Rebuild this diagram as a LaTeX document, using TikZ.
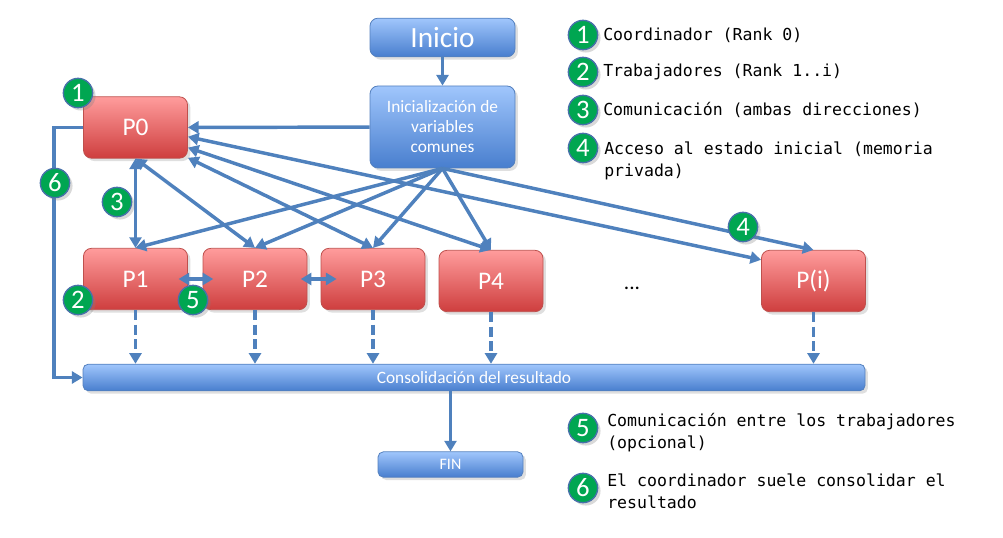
\documentclass[tikz,border=0pt]{standalone}
\usepackage{fontspec}
\setsansfont{Carlito}
\setmonofont{DejaVu Sans Mono}
\usetikzlibrary{arrows.meta,shadows}

\definecolor{linkblue}{RGB}{79,129,189}
\definecolor{proctop}{RGB}{255,156,156}
\definecolor{procbot}{RGB}{206,62,62}
\definecolor{procline}{RGB}{190,80,77}
\definecolor{bluetop}{RGB}{160,198,252}
\definecolor{bluebot}{RGB}{72,126,206}
\definecolor{blueline}{RGB}{84,128,190}
\definecolor{badgegreen}{RGB}{0,166,81}
\definecolor{badgeline}{RGB}{72,112,170}

\begin{document}
\begin{tikzpicture}[x=0.75pt, y=-0.75pt, >={Triangle[length=8pt,width=9pt]},
	link/.style={draw=linkblue, line width=2.6pt},
	proc node/.style={rounded corners=6pt, draw=procline, line width=0.6pt, top color=proctop, bottom color=procbot, minimum width=78pt, minimum height=46pt, inner sep=0pt, text=white, font=\sffamily\fontsize{19}{19}\selectfont, drop shadow={opacity=0.25}},
	blue node/.style={rounded corners=6pt, draw=blueline, line width=0.6pt, top color=bluetop, bottom color=bluebot, minimum width=108.75pt, inner sep=0pt, text=white, align=center, font=\sffamily, drop shadow={opacity=0.25}},
	badge node/.style={circle, fill=badgegreen, draw=badgeline, line width=1pt, minimum size=22pt, inner sep=0pt, text=white, font=\sffamily\fontsize{20}{20}\selectfont, drop shadow={opacity=0.3}},
	legend text/.style={anchor=west, inner sep=0pt, align=left, font=\ttfamily\fontsize{12.4}{16.5}\selectfont}]
	\useasboundingbox (0,0) rectangle (1003,538);
	% boxes
	\node[blue node, minimum height=29pt, font=\sffamily\fontsize{22}{22}\selectfont] (inicio) at (442.5,37.5) {Inicio};
	\node[blue node, minimum height=61.5pt, font=\sffamily\fontsize{13}{15}\selectfont] (init) at (442.5,127) {Inicializaci\'on de\\variables\\comunes};
	\node[proc node] (P0) at (135.5,127.5) {P0};
	\node[proc node] (P1) at (135.5,279) {P1};
	\node[proc node] (P2) at (255,279) {P2};
	\node[proc node] (P3) at (373,279) {P3};
	\node[proc node] (P4) at (491,281) {P4};
	\node[proc node] (Pi) at (813.5,281) {P(i)};
	\node[font=\sffamily\fontsize{16}{16}\selectfont] (dots) at (632,288) {...};
	\node[blue node, minimum width=586.5pt, minimum height=20pt, rounded corners=4pt, font=\sffamily\fontsize{13}{13}\selectfont] (bar) at (474,377.5) {Consolidaci\'on del resultado};
	\node[blue node, minimum height=19pt, rounded corners=4pt, font=\sffamily\fontsize{12}{12}\selectfont] (fin) at (450.5,464.5) {FIN};
	% connectors
	\draw[link, ->] (inicio) -- (init);
	\draw[link, ->] (init) -- (P0);
	\foreach \p in {P1,P2,P3,P4,Pi}
		\draw[link, ->] (init.south) -- (\p.north);
	\draw[link, <->] (P0.south) -- (P1.north);
	\draw[link, <->] (P0.south) -- (P2.north);
	\draw[link, <->] (P0.-30) -- (P3.north);
	\draw[link, <->] (P0.-21) -- (P4.north);
	\draw[link, <->] (P0.-10) -- (Pi.158);
	\draw[link, <->] ([xshift=-7pt]P1.east) -- ([xshift=8pt]P2.west);
	\draw[link, <->] ([xshift=-5pt]P2.east) -- ([xshift=12pt]P3.west);
	\foreach \p in {P1,P2,P3,P4,Pi}
		\draw[link, ->, dash pattern=on 7.5pt off 3.5pt] (\p.south) -- (\p.south |- bar.north);
	\draw[link, ->] (P0.west) -- ++(-29,0) |- (bar.west);
	\draw[link, ->] (bar.south -| fin.north) -- (fin.north);
	% badges on the diagram
	\node[badge node] (b1) at (78,93) {1};
	\node[badge node] (b2) at (78,300) {2};
	\node[badge node] (b3) at (117,202) {3};
	\node[badge node] (b4) at (743,227) {4};
	\node[badge node] (b5) at (193,300) {5};
	\node[badge node] (b6) at (55,183) {6};
	% legend
	\node[badge node] (l1) at (583,35) {1};
	\node[badge node] (l2) at (583,72) {2};
	\node[badge node] (l3) at (583,110) {3};
	\node[badge node] (l4) at (583,148) {4};
	\node[badge node] (l5) at (583,428) {5};
	\node[badge node] (l6) at (583,488) {6};
	\node[legend text] (t1) at (603,35) {Coordinador (Rank 0)};
	\node[legend text] (t2) at (603,72) {Trabajadores (Rank 1..i)};
	\node[legend text] (t3) at (603,110) {Comunicaci\'on (ambas direcciones)};
	\node[legend text] (t4) at (604,160.5) {Acceso al estado inicial (memoria\\privada)};
	\node[legend text] (t5) at (607,432.5) {Comunicaci\'on entre los trabajadores\\(opcional)};
	\node[legend text] (t6) at (607,491) {El coordinador suele consolidar el\\resultado};
\end{tikzpicture}
\end{document}
